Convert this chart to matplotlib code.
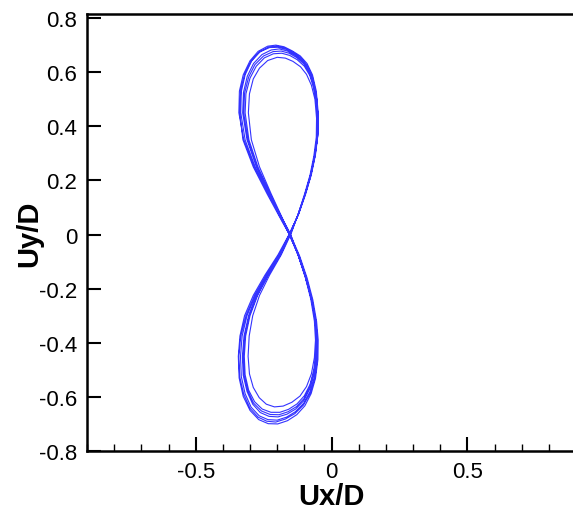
import numpy as np
import matplotlib.pyplot as plt
from matplotlib.ticker import MultipleLocator

plt.rcParams['font.family'] = ['Liberation Sans', 'DejaVu Sans']

# (Ux/D, Uy/D) points of each cycle
cycle1 = [(-0.155, 0.000), (-0.180, 0.05), (-0.233, 0.15), (-0.284, 0.25), (-0.323, 0.35), (-0.341, 0.45),
          (-0.339, 0.53), (-0.325, 0.59), (-0.300, 0.642), (-0.270, 0.677), (-0.235, 0.696), (-0.205, 0.700),
          (-0.175, 0.694), (-0.145, 0.679), (-0.115, 0.660), (-0.090, 0.632), (-0.070, 0.590), (-0.056, 0.530),
          (-0.049, 0.450), (-0.050, 0.370), (-0.060, 0.300), (-0.076, 0.225), (-0.097, 0.150), (-0.122, 0.075),
          (-0.155, 0.000), (-0.193, -0.075), (-0.240, -0.150), (-0.283, -0.225), (-0.315, -0.300), (-0.334, -0.375),
          (-0.341, -0.450), (-0.338, -0.525), (-0.323, -0.590), (-0.300, -0.642), (-0.270, -0.675), (-0.238, -0.690),
          (-0.205, -0.693), (-0.170, -0.682), (-0.135, -0.662), (-0.103, -0.630), (-0.078, -0.585), (-0.061, -0.530),
          (-0.052, -0.460), (-0.052, -0.390), (-0.058, -0.320), (-0.072, -0.240), (-0.093, -0.160), (-0.120, -0.080)]

cycle2 = [(-0.150, 0.000), (-0.176, 0.05), (-0.222, 0.15), (-0.265, 0.25), (-0.295, 0.35), (-0.306, 0.45),
          (-0.302, 0.52), (-0.288, 0.575), (-0.265, 0.615), (-0.235, 0.643), (-0.200, 0.655), (-0.170, 0.652),
          (-0.142, 0.640), (-0.114, 0.620), (-0.092, 0.592), (-0.074, 0.552), (-0.061, 0.500), (-0.055, 0.430),
          (-0.056, 0.360), (-0.065, 0.290), (-0.079, 0.220), (-0.099, 0.150), (-0.123, 0.075), (-0.148, 0.005),
          (-0.185, -0.075), (-0.228, -0.150), (-0.265, -0.225), (-0.290, -0.300), (-0.303, -0.375), (-0.307, -0.450),
          (-0.302, -0.515), (-0.288, -0.565), (-0.266, -0.603), (-0.240, -0.627), (-0.210, -0.637), (-0.178, -0.634),
          (-0.146, -0.620), (-0.116, -0.597), (-0.092, -0.562), (-0.074, -0.515), (-0.063, -0.455), (-0.059, -0.390),
          (-0.063, -0.320), (-0.076, -0.240), (-0.096, -0.160), (-0.121, -0.080)]

cycle3 = [(-0.153, 0.000), (-0.178, 0.05), (-0.228, 0.15), (-0.276, 0.25), (-0.311, 0.35), (-0.327, 0.45),
          (-0.324, 0.525), (-0.310, 0.585), (-0.287, 0.632), (-0.256, 0.665), (-0.222, 0.682), (-0.192, 0.686),
          (-0.162, 0.678), (-0.133, 0.662), (-0.106, 0.640), (-0.084, 0.608), (-0.067, 0.562), (-0.055, 0.500),
          (-0.050, 0.420), (-0.053, 0.350), (-0.062, 0.285), (-0.077, 0.215), (-0.098, 0.145), (-0.123, 0.072),
          (-0.154, -0.004), (-0.190, -0.075), (-0.235, -0.150), (-0.276, -0.225), (-0.305, -0.300), (-0.322, -0.375),
          (-0.328, -0.450), (-0.325, -0.520), (-0.311, -0.580), (-0.290, -0.627), (-0.262, -0.658), (-0.230, -0.672),
          (-0.197, -0.674), (-0.164, -0.664), (-0.132, -0.645), (-0.103, -0.615), (-0.081, -0.572), (-0.065, -0.520),
          (-0.056, -0.455), (-0.055, -0.385), (-0.060, -0.315), (-0.074, -0.238), (-0.095, -0.160), (-0.121, -0.080)]

cycle4 = [(-0.157, 0.004), (-0.183, 0.05), (-0.237, 0.15), (-0.288, 0.25), (-0.326, 0.35), (-0.338, 0.45),
          (-0.334, 0.535), (-0.318, 0.598), (-0.293, 0.645), (-0.262, 0.676), (-0.228, 0.691), (-0.196, 0.692),
          (-0.166, 0.684), (-0.138, 0.668), (-0.110, 0.647), (-0.086, 0.616), (-0.068, 0.570), (-0.055, 0.505),
          (-0.049, 0.430), (-0.051, 0.360), (-0.059, 0.295), (-0.074, 0.222), (-0.095, 0.150), (-0.121, 0.075),
          (-0.158, -0.003), (-0.197, -0.075), (-0.245, -0.150), (-0.288, -0.225), (-0.320, -0.300), (-0.337, -0.375),
          (-0.343, -0.450), (-0.340, -0.530), (-0.325, -0.598), (-0.300, -0.650), (-0.268, -0.684), (-0.233, -0.699),
          (-0.198, -0.700), (-0.162, -0.688), (-0.128, -0.666), (-0.098, -0.633), (-0.075, -0.588), (-0.059, -0.532),
          (-0.050, -0.462), (-0.049, -0.390), (-0.055, -0.320), (-0.069, -0.240), (-0.090, -0.160), (-0.117, -0.080)]

cycle5 = [(-0.151, -0.003), (-0.177, 0.05), (-0.226, 0.15), (-0.271, 0.25), (-0.304, 0.35), (-0.318, 0.45),
          (-0.315, 0.52), (-0.300, 0.578), (-0.277, 0.622), (-0.247, 0.653), (-0.214, 0.668), (-0.183, 0.670),
          (-0.154, 0.662), (-0.126, 0.646), (-0.100, 0.622), (-0.080, 0.588), (-0.065, 0.540), (-0.055, 0.480),
          (-0.052, 0.410), (-0.055, 0.345), (-0.064, 0.280), (-0.079, 0.212), (-0.099, 0.145), (-0.124, 0.072),
          (-0.151, 0.002), (-0.188, -0.075), (-0.233, -0.150), (-0.272, -0.225), (-0.300, -0.300), (-0.316, -0.375),
          (-0.321, -0.450), (-0.318, -0.518), (-0.305, -0.575), (-0.283, -0.618), (-0.255, -0.645), (-0.223, -0.657),
          (-0.190, -0.657), (-0.158, -0.646), (-0.127, -0.626), (-0.100, -0.596), (-0.079, -0.554), (-0.065, -0.500),
          (-0.057, -0.440), (-0.056, -0.375), (-0.061, -0.310), (-0.075, -0.235), (-0.096, -0.158), (-0.122, -0.080)]

cycle6 = [(-0.156, 0.002), (-0.181, 0.05), (-0.232, 0.15), (-0.281, 0.25), (-0.318, 0.35), (-0.334, 0.45),
          (-0.332, 0.528), (-0.318, 0.590), (-0.295, 0.640), (-0.266, 0.674), (-0.232, 0.692), (-0.200, 0.696),
          (-0.170, 0.689), (-0.140, 0.673), (-0.112, 0.652), (-0.088, 0.622), (-0.069, 0.578), (-0.056, 0.515),
          (-0.050, 0.440), (-0.051, 0.365), (-0.060, 0.295), (-0.076, 0.220), (-0.097, 0.148), (-0.122, 0.074),
          (-0.156, -0.002), (-0.192, -0.075), (-0.238, -0.150), (-0.280, -0.225), (-0.311, -0.300), (-0.329, -0.375),
          (-0.335, -0.450), (-0.332, -0.525), (-0.318, -0.588), (-0.296, -0.638), (-0.266, -0.670), (-0.234, -0.684),
          (-0.200, -0.686), (-0.166, -0.675), (-0.133, -0.655), (-0.102, -0.623), (-0.079, -0.580), (-0.062, -0.526),
          (-0.053, -0.458), (-0.052, -0.388), (-0.058, -0.318), (-0.072, -0.240), (-0.093, -0.160), (-0.119, -0.080)]

cycle7 = [(-0.152, 0.001), (-0.177, 0.05), (-0.227, 0.15), (-0.274, 0.25), (-0.308, 0.35), (-0.323, 0.45),
          (-0.320, 0.522), (-0.305, 0.582), (-0.282, 0.628), (-0.250, 0.660), (-0.215, 0.676), (-0.185, 0.678),
          (-0.156, 0.670), (-0.128, 0.654), (-0.102, 0.631), (-0.081, 0.598), (-0.066, 0.550), (-0.055, 0.490),
          (-0.051, 0.415), (-0.054, 0.348), (-0.063, 0.283), (-0.078, 0.214), (-0.098, 0.146), (-0.123, 0.073),
          (-0.153, 0.003), (-0.189, -0.075), (-0.234, -0.150), (-0.274, -0.225), (-0.303, -0.300), (-0.319, -0.375),
          (-0.325, -0.450), (-0.322, -0.520), (-0.308, -0.578), (-0.287, -0.623), (-0.258, -0.652), (-0.226, -0.665),
          (-0.193, -0.666), (-0.160, -0.655), (-0.129, -0.636), (-0.101, -0.606), (-0.080, -0.563), (-0.065, -0.510),
          (-0.056, -0.448), (-0.055, -0.380), (-0.060, -0.312), (-0.074, -0.236), (-0.095, -0.159), (-0.121, -0.080)]

path = np.array(cycle1 + cycle6 + cycle3 + cycle4 + cycle7 + cycle5 + cycle2 + cycle1[:1])

fig = plt.figure(figsize=(5.73, 5.10), dpi=100)
ax = fig.add_axes([87 / 573, 58 / 510, 489 / 573, 437 / 510])

ax.plot(path[:, 0], path[:, 1], color='#3333ff', lw=0.8)

ax.set_xlim(-0.9, 0.9)
ax.set_ylim(-0.8, 0.815)
ax.xaxis.set_minor_locator(MultipleLocator(0.1))
ax.set_xticks([-0.5, 0, 0.5])
ax.set_xticklabels(['-0.5', '0', '0.5'])
ax.set_yticks([-0.8, -0.6, -0.4, -0.2, 0, 0.2, 0.4, 0.6, 0.8])
ax.set_yticklabels(['-0.8', '-0.6', '-0.4', '-0.2', '0', '0.2', '0.4', '0.6', '0.8'])

ax.tick_params(which='both', direction='in', top=False, right=False, labelsize=16, width=1.5)
ax.tick_params(which='major', length=10, pad=7)
ax.tick_params(which='minor', length=5, width=1)
for s in ax.spines.values():
    s.set_linewidth(1.8)

ax.set_xlabel('Ux/D', fontsize=21, fontweight='bold', labelpad=0)
ax.set_ylabel('Uy/D', fontsize=21, fontweight='bold', labelpad=-3)

fig.savefig('out.png', dpi=100)
